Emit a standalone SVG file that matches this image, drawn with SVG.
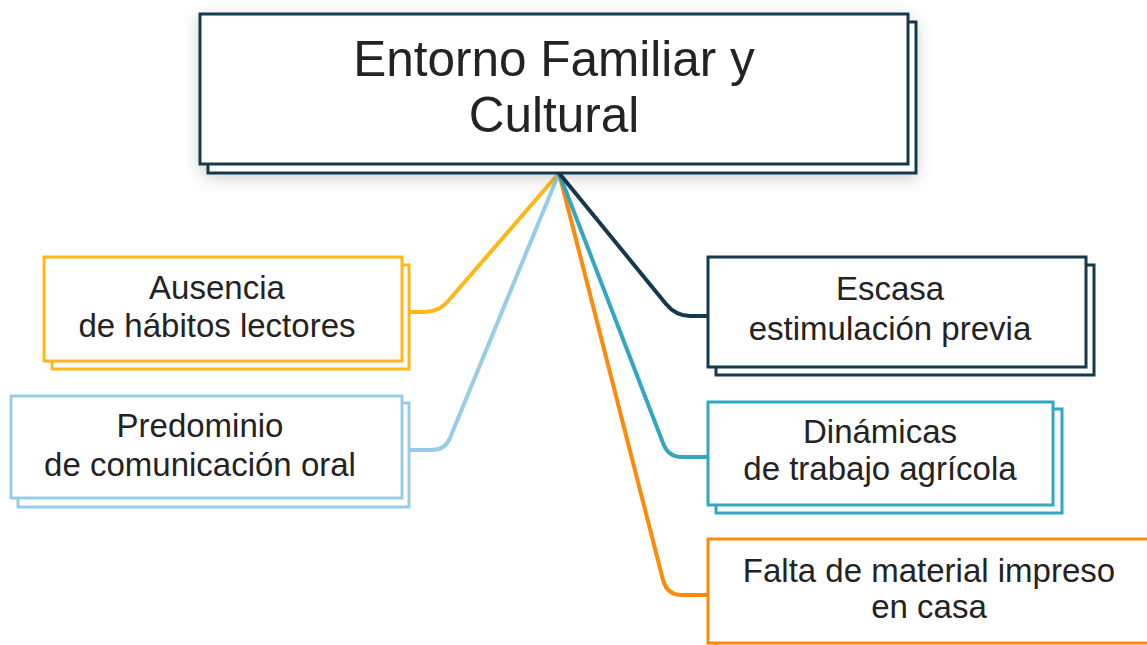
<svg xmlns="http://www.w3.org/2000/svg" width="1147" height="645" viewBox="0 0 1147 645">
  <defs>
    <filter id="shadow" x="-10%" y="-30%" width="120%" height="160%">
      <feDropShadow dx="0" dy="4" stdDeviation="8" flood-color="#000" flood-opacity="0.18"/>
    </filter>
  </defs>
  <style>
    .box { fill: #ffffff; stroke-width: 3; }
    .navy { stroke: #17394d; }
    .yellow { stroke: #ffb817; }
    .lblue { stroke: #97cde9; }
    .teal { stroke: #33a6c3; }
    .orange { stroke: #ff8a0a; }
    .conn { fill: none; stroke-width: 4; stroke-linecap: round; stroke-linejoin: round; }
    text { font-family: "Liberation Sans", Arial, sans-serif; fill: #232323; text-anchor: middle; }
    .title { font-size: 49.5px; }
    .lbl { font-size: 33px; }
  </style>
  <rect width="1147" height="645" fill="#ffffff"/>

  <g id="connectors">
    <path class="conn yellow" d="M559,173 L449,300 Q439,312 425,312 L410,312"/>
    <path class="conn lblue" d="M559,173 L450,438 Q445,450 432,450 L410,450"/>
    <path class="conn orange" d="M559,173 L663,580 Q667,595 682,595 L708,595"/>
    <path class="conn teal" d="M559,173 L663,443 Q668,457 682,457 L708,457"/>
    <path class="conn navy" d="M559,173 L666,304 Q676,316 690,316 L708,316"/>
  </g>

  <g id="node-root">
    <g filter="url(#shadow)">
      <rect class="box navy" x="208" y="22" width="708" height="151"/>
      <rect class="box navy" x="200" y="14" width="708" height="150"/>
    </g>
    <text class="title" x="554" y="76">Entorno Familiar y</text>
    <text class="title" x="554" y="132">Cultural</text>
  </g>

  <g id="node-ausencia">
    <rect class="box yellow" x="52" y="265" width="357" height="104"/>
    <rect class="box yellow" x="44" y="257" width="358" height="104"/>
    <text class="lbl" x="217" y="299">Ausencia</text>
    <text class="lbl" x="217" y="337">de hábitos lectores</text>
  </g>

  <g id="node-predominio">
    <rect class="box lblue" x="18" y="403" width="391" height="104"/>
    <rect class="box lblue" x="11" y="396" width="391" height="102"/>
    <text class="lbl" x="200" y="437">Predominio</text>
    <text class="lbl" x="200" y="476">de comunicación oral</text>
  </g>

  <g id="node-escasa">
    <rect class="box navy" x="716" y="265" width="378" height="110"/>
    <rect class="box navy" x="708" y="257" width="378" height="110"/>
    <text class="lbl" x="890" y="300">Escasa</text>
    <text class="lbl" x="890" y="340">estimulación previa</text>
  </g>

  <g id="node-dinamicas">
    <rect class="box teal" x="716" y="409" width="346" height="104"/>
    <rect class="box teal" x="708" y="402" width="345" height="103"/>
    <text class="lbl" x="880" y="443">Dinámicas</text>
    <text class="lbl" x="880" y="480">de trabajo agrícola</text>
  </g>

  <g id="node-falta">
    <rect class="box orange" x="716" y="547" width="450" height="104"/>
    <rect class="box orange" x="708" y="539" width="450" height="104"/>
    <text class="lbl" x="929" y="582">Falta de material impreso</text>
    <text class="lbl" x="929" y="618">en casa</text>
  </g>
</svg>
